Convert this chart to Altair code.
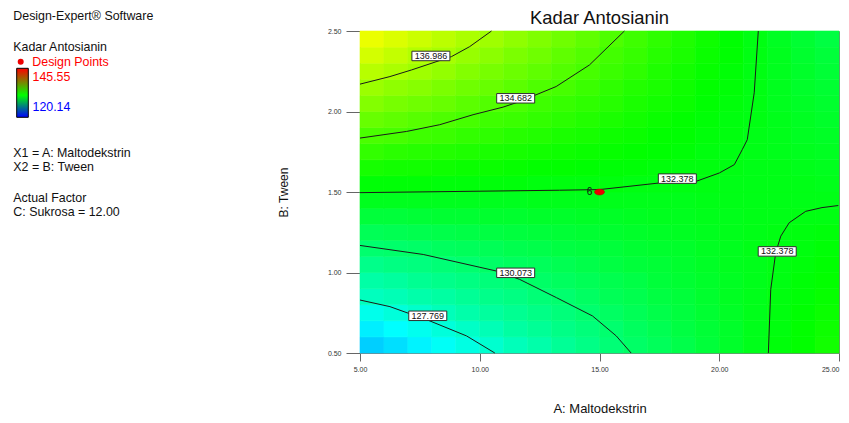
import altair as alt
import pandas as pd

FONT = "Liberation Sans"

# ---- heat-map cells (centres) and response values ----
x_centers = [5.5, 6.5, 7.5, 8.5, 9.5, 10.5, 11.5, 12.5, 13.5, 14.5,
             15.5, 16.5, 17.5, 18.5, 19.5, 20.5, 21.5, 22.5, 23.5, 24.5]
y_centers = [0.55, 0.65, 0.75, 0.85, 0.95, 1.05, 1.15, 1.25, 1.35, 1.45,
             1.55, 1.65, 1.75, 1.85, 1.95, 2.05, 2.15, 2.25, 2.35, 2.45]

z_rows = [
    [125.3, 125.7, 126.2, 126.7, 127.2, 127.7, 128.2, 128.6, 129.1, 129.5, 129.9, 130.3, 130.6, 131.0, 131.4, 131.8, 132.2, 132.6, 132.9, 133.3],
    [126.1, 126.5, 126.9, 127.4, 127.9, 128.3, 128.8, 129.1, 129.5, 129.8, 130.1, 130.5, 130.8, 131.2, 131.5, 131.8, 132.2, 132.5, 132.9, 133.2],
    [127.0, 127.4, 127.8, 128.2, 128.6, 128.9, 129.2, 129.5, 129.8, 130.1, 130.4, 130.7, 131.0, 131.3, 131.6, 131.9, 132.2, 132.5, 132.8, 133.1],
    [128.1, 128.3, 128.6, 128.8, 129.1, 129.4, 129.6, 129.9, 130.1, 130.4, 130.7, 130.9, 131.2, 131.4, 131.7, 132.0, 132.2, 132.5, 132.7, 133.0],
    [128.7, 128.9, 129.2, 129.4, 129.6, 129.8, 130.0, 130.3, 130.5, 130.7, 130.9, 131.1, 131.4, 131.6, 131.8, 132.0, 132.2, 132.4, 132.7, 132.9],
    [129.4, 129.6, 129.7, 129.9, 130.1, 130.3, 130.5, 130.6, 130.8, 131.0, 131.2, 131.4, 131.5, 131.7, 131.9, 132.1, 132.2, 132.4, 132.6, 132.8],
    [130.1, 130.2, 130.3, 130.5, 130.6, 130.7, 130.9, 131.0, 131.2, 131.3, 131.4, 131.6, 131.7, 131.8, 132.0, 132.1, 132.3, 132.4, 132.5, 132.7],
    [130.7, 130.8, 130.9, 131.0, 131.1, 131.2, 131.3, 131.4, 131.5, 131.6, 131.7, 131.8, 131.9, 132.0, 132.1, 132.2, 132.3, 132.4, 132.5, 132.6],
    [131.4, 131.4, 131.5, 131.6, 131.6, 131.7, 131.7, 131.8, 131.8, 131.9, 131.9, 132.0, 132.1, 132.1, 132.2, 132.2, 132.3, 132.3, 132.4, 132.4],
    [132.1, 132.1, 132.1, 132.1, 132.1, 132.1, 132.1, 132.2, 132.2, 132.2, 132.2, 132.2, 132.2, 132.2, 132.3, 132.3, 132.3, 132.3, 132.3, 132.3],
    [132.7, 132.7, 132.7, 132.6, 132.6, 132.6, 132.6, 132.5, 132.5, 132.5, 132.5, 132.4, 132.4, 132.4, 132.4, 132.3, 132.3, 132.3, 132.3, 132.2],
    [133.4, 133.3, 133.3, 133.2, 133.1, 133.1, 133.0, 132.9, 132.9, 132.8, 132.7, 132.7, 132.6, 132.5, 132.5, 132.4, 132.3, 132.3, 132.2, 132.1],
    [134.1, 133.9, 133.8, 133.7, 133.6, 133.5, 133.4, 133.3, 133.2, 133.1, 133.0, 132.9, 132.8, 132.7, 132.5, 132.4, 132.3, 132.2, 132.1, 132.0],
    [134.7, 134.6, 134.4, 134.3, 134.1, 134.0, 133.8, 133.7, 133.5, 133.4, 133.2, 133.1, 132.9, 132.8, 132.6, 132.5, 132.3, 132.2, 132.0, 131.9],
    [135.4, 135.2, 135.0, 134.8, 134.6, 134.4, 134.3, 134.1, 133.9, 133.7, 133.5, 133.3, 133.1, 132.9, 132.7, 132.5, 132.4, 132.2, 132.0, 131.8],
    [136.1, 135.8, 135.6, 135.4, 135.1, 134.9, 134.7, 134.4, 134.2, 134.0, 133.8, 133.5, 133.3, 133.1, 132.8, 132.6, 132.4, 132.1, 131.9, 131.7],
    [136.7, 136.4, 136.2, 135.9, 135.6, 135.4, 135.1, 134.8, 134.6, 134.3, 134.0, 133.7, 133.5, 133.2, 132.9, 132.7, 132.4, 132.1, 131.8, 131.6],
    [137.4, 137.1, 136.8, 136.5, 136.1, 135.8, 135.5, 135.2, 134.9, 134.6, 134.3, 134.0, 133.6, 133.3, 133.0, 132.7, 132.4, 132.1, 131.8, 131.5],
    [138.1, 137.7, 137.3, 137.0, 136.6, 136.3, 135.9, 135.6, 135.2, 134.9, 134.5, 134.2, 133.8, 133.5, 133.1, 132.8, 132.4, 132.1, 131.7, 131.4],
    [138.7, 138.3, 137.9, 137.5, 137.1, 136.8, 136.4, 136.0, 135.6, 135.2, 134.8, 134.4, 134.0, 133.6, 133.2, 132.8, 132.4, 132.0, 131.6, 131.2],
]
cell_half_w = 0.5
cell_half_h = 0.05

# ---- contour lines ----
c136_x = [5.0, 6.25, 7.15, 8.82, 9.58, 10.49]
c136_y = [2.170, 2.217, 2.258, 2.341, 2.403, 2.5]
c134_x = [5.0, 6.94, 8.33, 9.72, 10.97, 11.67, 13.19, 14.58, 16.04]
c134_y = [1.835, 1.876, 1.918, 1.980, 2.027, 2.062, 2.155, 2.289, 2.5]
c132a_x = [5.0, 13.33, 15.0, 17.5, 19.03, 20.0, 20.63, 20.96, 21.17, 21.46, 21.63]
c132a_y = [1.496, 1.511, 1.515, 1.556, 1.566, 1.618, 1.670, 1.763, 1.825, 2.116, 2.5]
c132b_x = [22.05, 22.15, 22.36, 22.57, 22.92, 23.61, 24.29, 24.97]
c132b_y = [0.5, 0.895, 1.125, 1.226, 1.309, 1.380, 1.403, 1.416]
c130_x = [5.0, 7.64, 10.70, 11.67, 13.20, 14.71, 15.70, 16.32]
c130_y = [1.168, 1.112, 1.009, 0.957, 0.844, 0.730, 0.606, 0.5]
c127_x = [5.0, 6.25, 7.92, 9.45, 10.63]
c127_y = [0.829, 0.788, 0.699, 0.606, 0.5]

label_x = [7.96, 11.5, 18.25, 22.42, 11.5, 7.83]
label_y = [2.345, 2.082, 1.583, 1.131, 0.998, 0.731]
label_text = ["136.986", "134.682", "132.378", "132.378", "130.073", "127.769"]

design_x = [15.0]
design_y = [1.5]
design_n = ["6"]

x_ticks = [5, 10, 15, 20, 25]
y_ticks = [0.5, 1.0, 1.5, 2.0, 2.5]

z_min, z_max = 120.14, 145.55

# ---- tables ----
cells = []
for j, yc in enumerate(y_centers):
    for i, xc in enumerate(x_centers):
        cells.append({"xc": xc, "yc": yc, "z": z_rows[j][i]})
df_cells = pd.DataFrame(cells)

lines = []
for name, xs, ys in [("c136", c136_x, c136_y), ("c134", c134_x, c134_y),
                     ("c132a", c132a_x, c132a_y), ("c132b", c132b_x, c132b_y),
                     ("c130", c130_x, c130_y), ("c127", c127_x, c127_y)]:
    for k, (xv, yv) in enumerate(zip(xs, ys)):
        lines.append({"line": name, "x": xv, "y": yv, "ord": k})
df_lines = pd.DataFrame(lines)

df_labels = pd.DataFrame({"x": label_x, "y": label_y, "t": label_text})
df_design = pd.DataFrame({"x": design_x, "y": design_y, "n": design_n})

mid = (z_min + z_max) / 2
color_scale = alt.Scale(
    domain=[z_min, (z_min + mid) / 2, mid, (mid + z_max) / 2, z_max],
    range=["#0000ff", "#00ffff", "#00ff00", "#ffff00", "#ff0000"],
    interpolate="rgb",
)

xscale = alt.Scale(domain=[5, 25], nice=False, zero=False)
yscale = alt.Scale(domain=[0.5, 2.5], nice=False, zero=False)

xaxis = alt.Axis(values=x_ticks, format=".2f", title="A: Maltodekstrin",
                 tickSize=8, labelPadding=4, labelFlush=False, titleFontSize=13,
                 labelAlign={"condition": {"test": "datum.value == 25", "value": "right"},
                             "value": "center"},
                 titleY=55, titleBaseline="middle", titleAlign="center")
yaxis = alt.Axis(values=y_ticks, format=".2f", title="B: Tween",
                 tickSize=14, labelPadding=5, labelFlush=False, titleFontSize=12,
                 titleX=-77, titleY=161, titleAngle=270,
                 titleBaseline="middle", titleAlign="center")

heat = alt.Chart(df_cells).transform_calculate(
    x0=f"datum.xc - {cell_half_w}", x1=f"datum.xc + {cell_half_w}",
    y0=f"datum.yc - {cell_half_h}", y1=f"datum.yc + {cell_half_h}",
).mark_rect(strokeWidth=0.6).encode(
    x=alt.X("x0:Q", scale=xscale, axis=xaxis),
    x2="x1:Q",
    y=alt.Y("y0:Q", scale=yscale, axis=yaxis),
    y2="y1:Q",
    color=alt.Color("z:Q", scale=color_scale, legend=None),
    stroke=alt.Stroke("z:Q", scale=color_scale, legend=None),
)

contours = alt.Chart(df_lines).mark_line(color="#1a1a1a", strokeWidth=1).encode(
    x="x:Q", y="y:Q", detail="line:N", order="ord:Q"
)

boxes = alt.Chart(df_labels).mark_point(
    shape="M-1,-0.25H1V0.25H-1Z", size=1444, filled=True, fill="white",
    fillOpacity=1, stroke="#303030", strokeWidth=1, strokeOpacity=1,
).encode(x="x:Q", y="y:Q")

box_text = alt.Chart(df_labels).mark_text(font=FONT, fontSize=9, color="#111111").encode(
    x="x:Q", y="y:Q", text="t:N"
)

dpoint = alt.Chart(df_design).mark_point(
    shape="M-1,0A1,0.6,0,1,0,1,0A1,0.6,0,1,0,-1,0Z", size=100, filled=True,
    fill="#ee0000", fillOpacity=1, stroke="#b00000", strokeWidth=0.5,
).encode(x="x:Q", y="y:Q")

dtext = alt.Chart(df_design).mark_text(font=FONT, fontSize=10, dx=-10, color="#111111").encode(
    x="x:Q", y="y:Q", text="n:N"
)

one = pd.DataFrame({"k": [0]})


def label(text, px, py, size=12.4, color="#111111", align="left", baseline="middle"):
    return alt.Chart(one).mark_text(
        text=text, font=FONT, fontSize=size, color=color, align=align, baseline=baseline
    ).encode(x=alt.value(px), y=alt.value(py))


title = label("Kadar Antosianin", 239.5, -7, size=18.4, align="center", baseline="alphabetic")

side = [
    label("Design-Expert\u00ae Software", -346.7, -15),
    label("Kadar Antosianin", -346.7, 15.7),
    label("Design Points", -327.7, 30.7, color="#ff0000"),
    label("145.55", -327.5, 45.7, color="#ff0000"),
    label("120.14", -327.5, 76.3, color="#0000ff"),
    label("X1 = A: Maltodekstrin", -346.7, 121.7),
    label("X2 = B: Tween", -346.7, 136.3),
    label("Actual Factor", -346.7, 167.3),
    label("C: Sukrosa = 12.00", -346.7, 181.3),
]

legend_dot = alt.Chart(one).mark_point(
    shape="circle", size=36, filled=True, fill="#ee0000", fillOpacity=1
).encode(x=alt.value(-339.3), y=alt.value(30.7))

legend_bar = alt.Chart(one).mark_rect(
    fill=alt.LinearGradient(
        gradient="linear",
        stops=[alt.GradientStop(color="#ff0000", offset=0),
               alt.GradientStop(color="#00ff00", offset=0.55),
               alt.GradientStop(color="#0000ff", offset=1)],
        x1=0, x2=0, y1=0, y2=1,
    ),
    stroke="#000000", strokeWidth=1,
).encode(x=alt.value(-343.3), x2=alt.value(-331.7), y=alt.value(37.3), y2=alt.value(86.3))

chart = alt.layer(
    heat, contours, boxes, box_text, dpoint, dtext, title, legend_dot, legend_bar, *side
).properties(
    width=479, height=322,
    autosize=alt.AutoSizeParams(type="none"),
    padding={"left": 352, "top": 23, "right": 2, "bottom": 62},
).configure_view(
    stroke="#808080", strokeWidth=1
).configure_axis(
    grid=False, labelFont=FONT, titleFont=FONT, labelFontSize=7,
    labelColor="#333333", tickColor="#666666", domainColor="#808080",
    titleFontWeight="normal", titleColor="#111111",
)

chart.save("out.html", embed_options={"renderer": "svg", "actions": False})
